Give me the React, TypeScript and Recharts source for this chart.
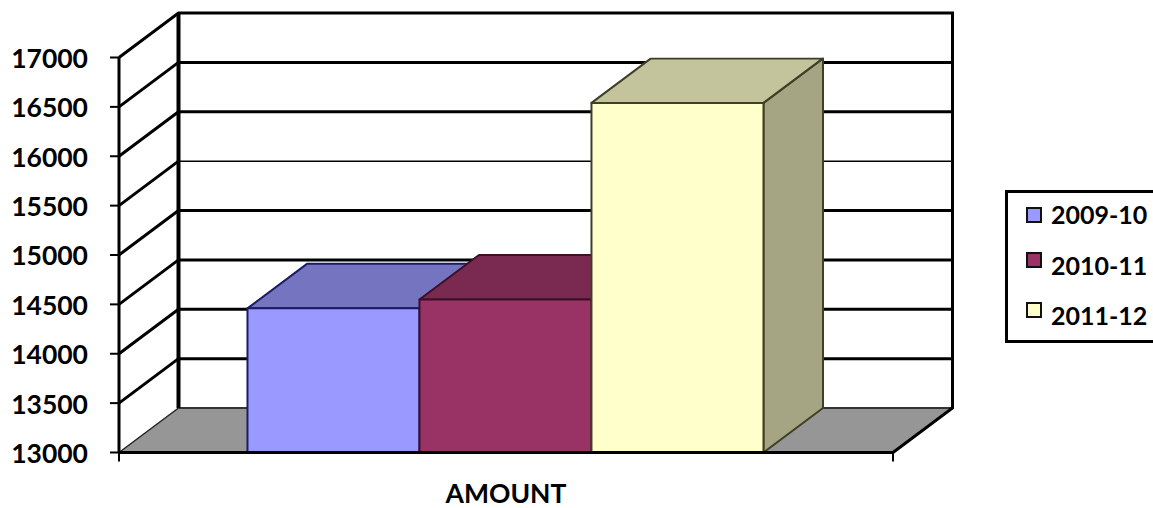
import { BarChart, Bar, XAxis, YAxis, Legend, ReferenceArea, ReferenceLine } from 'recharts';

const categories = ['AMOUNT'];
const seriesNames = ['2009-10', '2010-11', '2011-12'];
const seriesValues = [[14460], [14550], [16540]];
const yTicks = [13000, 13500, 14000, 14500, 15000, 15500, 16000, 16500, 17000];

const frontColors = ['#9999ff', '#993366', '#ffffcc'];
const topColors = ['#7474c0', '#7a2950', '#c3c39c'];
const sideColors = ['#7474c0', '#6b2447', '#a5a583'];
const edgeColors = ['#1c1c66', '#3d1028', '#3f3f28'];

const data = categories.map((name, i) => ({
  name,
  a: seriesValues[0][i],
  b: seriesValues[1][i],
  c: seriesValues[2][i],
}));

const DX = 59.5;
const DY = 44.5;
const FONT = 'Lato, sans-serif';

// back wall, left wall and floor of the 3d box
function Walls({ x, y, width, height }: any) {
  const bottom = y + height;
  const right = x + width;
  return (
    <g>
      <polygon
        points={`${x},${bottom} ${x + DX},${bottom - DY} ${right + DX},${bottom - DY} ${right},${bottom}`}
        fill="#969696"
      />
      <path
        d={`M${x + DX},${bottom - DY} H${right + DX}`}
        stroke="#333"
        strokeWidth={2}
        fill="none"
      />
      <path
        d={`M${x},${y} L${x + DX},${y - DY} H${right + DX} V${bottom - DY} L${right},${bottom}`}
        stroke="#000"
        strokeWidth={3}
        fill="none"
      />
      <path d={`M${x + DX},${y - DY} V${bottom - DY}`} stroke="#000" strokeWidth={4} fill="none" />
      <path d={`M${x},${bottom} L${x + DX},${bottom - DY}`} stroke="#222" strokeWidth={1.5} fill="none" />
      <path d={`M${x},${bottom} V${bottom + 9} M${right},${bottom} V${bottom + 9}`} stroke="#000" strokeWidth={2} />
    </g>
  );
}

// gridline runs up the left wall then along the back wall
function GridLine({ x1, y1, x2, thin }: any) {
  return (
    <g fill="none" stroke="#000">
      <path d={`M${x1},${y1} L${x1 + DX},${y1 - DY}`} strokeWidth={3} />
      <path d={`M${x1 + DX},${y1 - DY} H${x2 + DX}`} strokeWidth={thin ? 1.5 : 3} />
    </g>
  );
}

function makeBox(i: number) {
  return function Box({ x, y, width, height }: any) {
    const r = x + width;
    const b = y + height;
    return (
      <g stroke={edgeColors[i]} strokeWidth={2} strokeLinejoin="round">
        <polygon points={`${r},${y} ${r + DX},${y - DY} ${r + DX},${b - DY} ${r},${b}`} fill={sideColors[i]} />
        <polygon points={`${x},${y} ${x + DX},${y - DY} ${r + DX},${y - DY} ${r},${y}`} fill={topColors[i]} />
        <rect x={x} y={y} width={width} height={height} fill={frontColors[i]} />
      </g>
    );
  };
}

const legendTop = [14, 59, 109];
const legendText = [21, 72, 122];

function LegendBox() {
  return (
    <div
      style={{
        position: 'relative',
        width: 160,
        height: 153,
        boxSizing: 'border-box',
        border: '3px solid #000',
        background: '#fff',
        fontFamily: FONT,
        fontWeight: 700,
        fontSize: 25,
        color: '#000',
      }}
    >
      {seriesNames.map((name, i) => (
        <div key={name}>
          <div
            style={{
              position: 'absolute',
              left: 18,
              top: legendTop[i],
              width: 16,
              height: 16,
              boxSizing: 'border-box',
              border: '2px solid #111',
              background: frontColors[i],
            }}
          />
          <div style={{ position: 'absolute', left: 43, top: legendText[i] - 15, lineHeight: '30px' }}>{name}</div>
        </div>
      ))}
    </div>
  );
}

export default function App() {
  return (
    <div style={{ position: 'absolute', left: 0, top: 0, width: 1153, height: 508, overflow: 'hidden', background: '#fff' }}>
      <BarChart
        width={1153}
        height={508}
        data={data}
        margin={{ top: 57.5, right: 260, bottom: 0, left: 0 }}
        barGap={0}
        barCategoryGap="16.6%"
      >
        <ReferenceArea y1={13000} y2={17000} shape={<Walls />} fill="none" stroke="none" />
        {yTicks.slice(1, -1).map(t => (
          <ReferenceLine key={t} y={t} zIndex={100} shape={<GridLine thin={t === 15500} />} />
        ))}
        <XAxis
          dataKey="name"
          height={55.5}
          zIndex={600}
          axisLine={{ stroke: '#000', strokeWidth: 3 }}
          tickLine={false}
          tickMargin={26}
          tick={{ fill: '#000', fontFamily: FONT, fontWeight: 700, fontSize: 26.5 }}
        />
        <YAxis
          width={119}
          domain={[13000, 17000]}
          ticks={yTicks}
          interval={0}
          allowDataOverflow
          axisLine={{ stroke: '#000', strokeWidth: 3 }}
          tickLine={{ stroke: '#000', strokeWidth: 2 }}
          tickSize={9}
          tickMargin={22}
          tick={{ fill: '#000', fontFamily: FONT, fontWeight: 700, fontSize: 26.5, dy: 1 }}
        />
        <Bar dataKey="a" name={seriesNames[0]} fill={frontColors[0]} shape={makeBox(0)} isAnimationActive={false} />
        <Bar dataKey="b" name={seriesNames[1]} fill={frontColors[1]} shape={makeBox(1)} isAnimationActive={false} />
        <Bar dataKey="c" name={seriesNames[2]} fill={frontColors[2]} shape={makeBox(2)} isAnimationActive={false} />
        <Legend
          layout="vertical"
          align="center"
          verticalAlign="middle"
          content={() => <LegendBox />}
          wrapperStyle={{ left: 1005, top: 190, width: 160 }}
        />
      </BarChart>
    </div>
  );
}
